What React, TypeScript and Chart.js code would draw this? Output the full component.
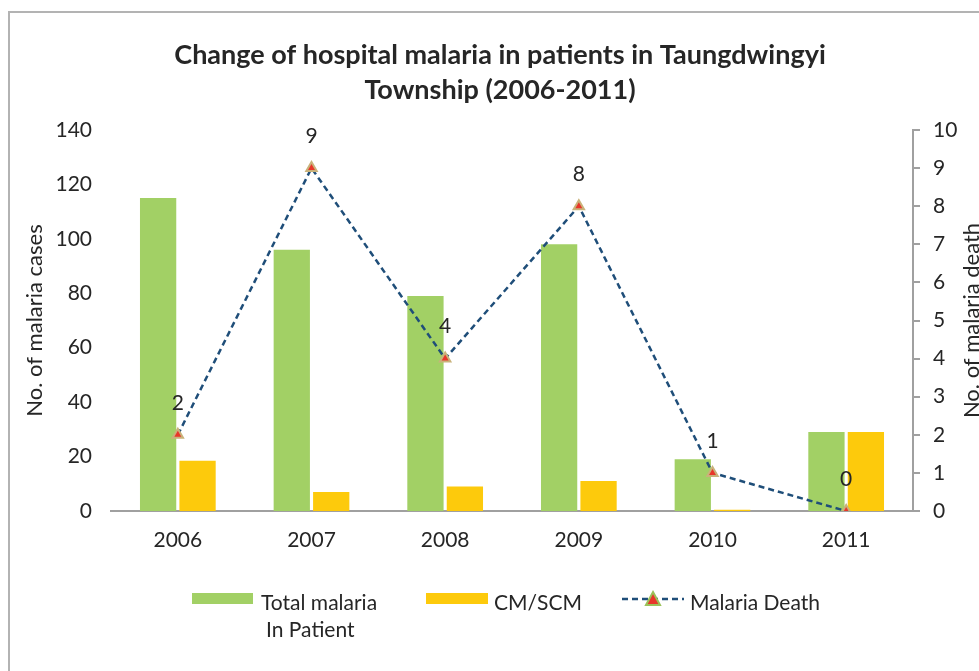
import React, { useEffect, useRef } from "react";
import { Chart, registerables } from "chart.js";

Chart.register(...registerables);

const years = ["2006", "2007", "2008", "2009", "2010", "2011"];
const totalMalaria = [115, 96, 79, 98, 19, 29];
const cmScm = [18.5, 7, 9, 11, 0.5, 29];
const malariaDeath = [2, 9, 4, 8, 1, 0];

const titleLines = ["Change of hospital malaria in patients in Taungdwingyi", "Township (2006-2011)"];
const leftAxisTitle = "No. of malaria cases";
const rightAxisTitle = "No. of malaria death";
const legendTotal = ["Total malaria", "In Patient"];
const legendCm = ["CM/SCM"];
const legendDeath = ["Malaria Death"];

const FONT = "Lato, 'Open Sans', sans-serif";
const TEXT = "#262626";
const GREEN = "#a2d065";
const YELLOW = "#fdca0c";
const LINE = "#1f4e79";
const AXIS = "#a0a0a0";
const TICK_SIZE = 21;

const decorPlugin = {
  id: "decor",
  beforeDraw(chart: any) {
    const ctx = chart.ctx;
    ctx.save();
    ctx.fillStyle = "#fff";
    ctx.fillRect(0, 0, chart.width, chart.height);
    ctx.fillStyle = "#b3b3b3";
    ctx.fillRect(8, 11, 2, chart.height - 11);
    ctx.fillRect(8, 11, chart.width - 8, 2);
    ctx.restore();
  },
  afterDraw(chart: any) {
    const ctx = chart.ctx;
    const area = chart.chartArea;
    ctx.save();
    ctx.fillStyle = TEXT;
    // title
    ctx.font = `bold 27px ${FONT}`;
    ctx.textAlign = "center";
    ctx.textBaseline = "middle";
    titleLines.forEach((t, i) => ctx.fillText(t, 500, 55 + i * 35));

    // axis titles
    ctx.font = `22px ${FONT}`;
    const midY = (area.top + area.bottom) / 2;
    ctx.save();
    ctx.translate(35, midY);
    ctx.rotate(-Math.PI / 2);
    ctx.fillText(leftAxisTitle, 0, 0);
    ctx.restore();
    ctx.save();
    ctx.translate(972, midY);
    ctx.rotate(-Math.PI / 2);
    ctx.fillText(rightAxisTitle, 0, 0);
    ctx.restore();

    // data labels
    const meta = chart.getDatasetMeta(2);
    ctx.font = `${TICK_SIZE}px ${FONT}`;
    meta.data.forEach((pt: any, i: number) => {
      ctx.fillText(String(malariaDeath[i]), pt.x, pt.y - 32);
    });

    // legend
    ctx.textAlign = "left";
    ctx.font = `${TICK_SIZE}px ${FONT}`;
    ctx.fillStyle = GREEN;
    ctx.fillRect(192, 593, 61, 11);
    ctx.fillStyle = TEXT;
    ctx.fillText(legendTotal[0], 261, 603);
    ctx.fillText(legendTotal[1], 266, 630);

    ctx.fillStyle = YELLOW;
    ctx.fillRect(426, 593, 62, 11);
    ctx.fillStyle = TEXT;
    ctx.fillText(legendCm[0], 494, 603);

    ctx.strokeStyle = LINE;
    ctx.lineWidth = 2.5;
    ctx.setLineDash([6, 4]);
    ctx.beginPath();
    ctx.moveTo(622, 599);
    ctx.lineTo(684, 599);
    ctx.stroke();
    ctx.setLineDash([]);
    ctx.fillStyle = "#e8372a";
    ctx.strokeStyle = "#9bc25a";
    ctx.lineWidth = 2;
    ctx.beginPath();
    ctx.moveTo(653, 592);
    ctx.lineTo(660, 605);
    ctx.lineTo(646, 605);
    ctx.closePath();
    ctx.fill();
    ctx.stroke();
    ctx.fillStyle = TEXT;
    ctx.fillText(legendDeath[0], 690, 603);
    ctx.restore();
  },
};

export default function App() {
  const ref = useRef<HTMLCanvasElement>(null);
  useEffect(() => {
    if (!ref.current) return;
    const chart = new Chart(ref.current, {
      type: "bar",
      data: {
        labels: years,
        datasets: [
          {
            type: "bar",
            label: legendTotal.join(" "),
            data: totalMalaria,
            backgroundColor: GREEN,
            yAxisID: "y",
            order: 2,
            categoryPercentage: 0.59,
            barPercentage: 0.92,
          },
          {
            type: "bar",
            label: legendCm[0],
            data: cmScm,
            backgroundColor: YELLOW,
            yAxisID: "y",
            order: 2,
            categoryPercentage: 0.59,
            barPercentage: 0.92,
          },
          {
            type: "line",
            label: legendDeath[0],
            data: malariaDeath,
            yAxisID: "y1",
            order: 0,
            borderColor: LINE,
            borderWidth: 2.5,
            borderDash: [6, 4],
            fill: false,
            tension: 0,
            pointStyle: "triangle",
            pointRadius: 6,
            pointBackgroundColor: "#e8372a",
            pointBorderColor: "#c9b27a",
            pointBorderWidth: 2,
          } as any,
        ],
      },
      options: {
        responsive: false,
        animation: false,
        devicePixelRatio: 1,
        layout: { padding: { top: 130, left: 0, right: 0, bottom: 0 } },
        plugins: { legend: { display: false }, title: { display: false }, tooltip: { enabled: false } },
        scales: {
          x: {
            grid: { display: false, drawTicks: false },
            border: { display: true, color: AXIS, width: 2 },
            ticks: { color: TEXT, font: { family: FONT, size: TICK_SIZE }, padding: 17 },
            afterFit: (s: any) => { s.height = 160; },
          },
          y: {
            position: "left",
            min: 0,
            max: 140,
            grid: { display: false, drawTicks: false },
            border: { display: false },
            ticks: { stepSize: 20, color: TEXT, font: { family: FONT, size: TICK_SIZE }, padding: 19 },
            afterFit: (s: any) => { s.width = 111; },
          },
          y1: {
            position: "right",
            min: 0,
            max: 10,
            grid: { display: true, drawOnChartArea: false, drawTicks: true, tickLength: 7, color: AXIS, lineWidth: 2 },
            border: { display: true, color: AXIS, width: 2 },
            ticks: { stepSize: 1, color: TEXT, font: { family: FONT, size: TICK_SIZE }, padding: 13 },
            afterFit: (s: any) => { s.width = 66; },
          },
        },
      },
      plugins: [decorPlugin],
    });
    return () => chart.destroy();
  }, []);
  return (
    <div style={{ position: "fixed", left: 0, top: 0, width: 979, height: 671, overflow: "hidden", background: "#fff" }}>
      <canvas ref={ref} width={979} height={671} style={{ width: 979, height: 671, display: "block" }} />
    </div>
  );
}
